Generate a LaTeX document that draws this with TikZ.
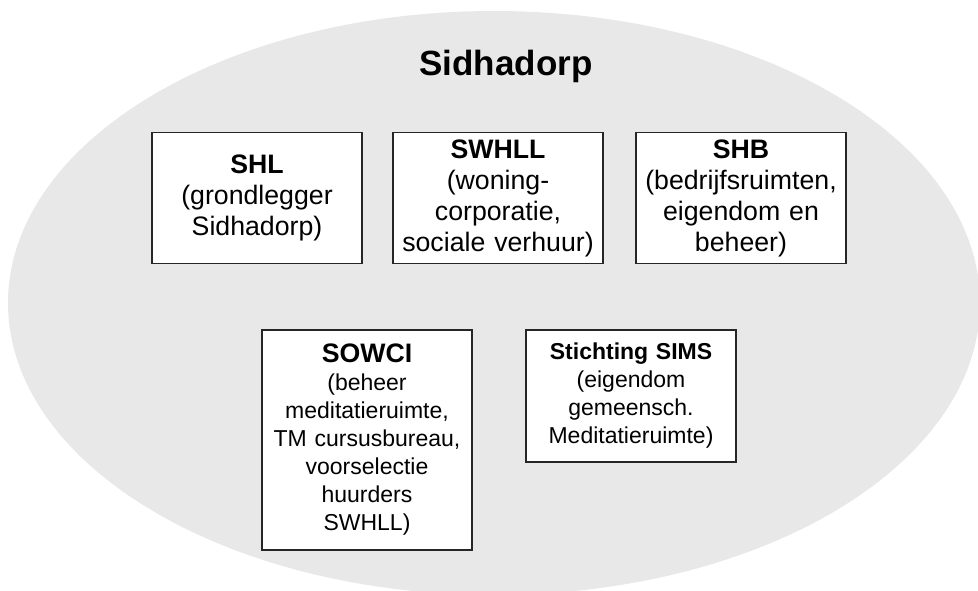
\documentclass[tikz,border=0pt]{standalone}
\usepackage{fontspec}
\setmainfont{Liberation Sans}
\usetikzlibrary{positioning}
\definecolor{dorpgrey}{HTML}{E8E8E8}
\definecolor{randgrey}{HTML}{262626}

\begin{document}
\begin{tikzpicture}[x=1pt, y=-1pt,
        orgbox/.style={draw=randgrey, line width=1.2pt, fill=white, align=center,
            inner sep=2pt, minimum width=210pt, text width=204pt,
            font=\fontsize{26.7}{31}\selectfont},
        smallbox/.style={orgbox, font=\fontsize{23}{28}\selectfont},
    ]
        \useasboundingbox (0, 0) rectangle (978, 590);
        \fill[dorpgrey] (494, 303) ellipse [x radius=486, y radius=292];

        \node[font=\bfseries\fontsize{35}{40}\selectfont] (dorp) at (506, 66) {Sidhadorp};

        \node[orgbox, minimum height=131pt] (shl) at (257, 198)
            {\textbf{SHL}\\(grondlegger\\Sidhadorp)};
        \node[orgbox, minimum height=131pt] (swhll) at (498, 198)
            {\textbf{SWHLL}\\(woning-\\corporatie,\\sociale verhuur)};
        \node[orgbox, minimum height=131pt] (shb) at (741, 198)
            {\textbf{SHB}\\(bedrijfsruimten,\\eigendom en\\beheer)};

        \node[smallbox, minimum height=220pt] (sowci) at (367, 440)
            {{\bfseries\fontsize{26.7}{31}\selectfont SOWCI}\\(beheer\\meditatieruimte,\\TM cursusbureau,\\voorselectie\\huurders\\SWHLL)};
        \node[smallbox, minimum height=132pt] (sims) at (631, 396)
            {\textbf{Stichting SIMS}\\(eigendom\\gemeensch.\\Meditatieruimte)};
\end{tikzpicture}
\end{document}
